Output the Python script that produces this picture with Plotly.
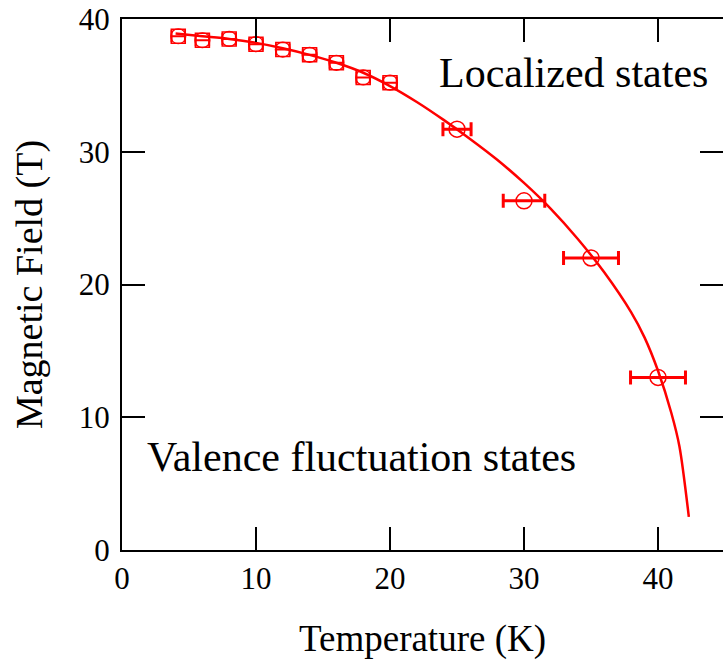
import plotly.graph_objects as go

# Square data (low temperature)
sq_T = [4.2, 6, 8, 10, 12, 14, 16, 18, 20]
sq_B = [38.7, 38.4, 38.5, 38.1, 37.7, 37.3, 36.7, 35.6, 35.2]
sq_err = [0.5, 0.5, 0.5, 0.5, 0.5, 0.5, 0.5, 0.5, 0.5]

# Circle data (high temperature)
ci_T = [25, 30, 35, 40]
ci_B = [31.7, 26.3, 22.0, 13.0]
ci_err = [1.05, 1.55, 2.05, 2.05]

# Fitted curve
fit_T = [4, 6, 8, 10, 12, 14, 16, 18, 20, 22, 24, 26, 28, 30, 32, 34, 36, 38, 39, 40, 41, 41.6, 42.3]
fit_B = [38.9, 38.7, 38.5, 38.2, 37.8, 37.3, 36.7, 35.95, 34.95, 33.75, 32.4, 30.95, 29.4, 27.65, 25.7, 23.45, 20.9, 17.9, 16.0, 13.5, 10.3, 7.8, 2.5]

xticks = [0, 10, 20, 30, 40]
yticks = [0, 10, 20, 30, 40]

RED = "#ff0000"
FONT = "Liberation Serif"

fig = go.Figure()
fig.add_trace(go.Scatter(x=fit_T, y=fit_B, mode="lines",
                         line=dict(color=RED, width=2.5, shape="spline", smoothing=0.8),
                         showlegend=False))
fig.add_trace(go.Scatter(x=sq_T, y=sq_B, mode="markers",
                         marker=dict(symbol="square-open", size=14, color=RED, line=dict(width=1.5, color=RED)),
                         error_x=dict(type="data", array=sq_err, color=RED, thickness=2, width=6),
                         showlegend=False))
fig.add_trace(go.Scatter(x=sq_T, y=sq_B, mode="markers",
                         marker=dict(symbol="circle-open", size=15, color=RED, line=dict(width=1.2, color=RED)),
                         showlegend=False))
fig.add_trace(go.Scatter(x=ci_T, y=ci_B, mode="markers",
                         marker=dict(symbol="circle-open", size=16, color=RED, line=dict(width=1.5, color=RED)),
                         error_x=dict(type="data", array=ci_err, color=RED, thickness=3, width=7),
                         showlegend=False))
# invisible trace for right y axis ticks
fig.add_trace(go.Scatter(x=[None], y=[None], yaxis="y2", showlegend=False))

W, H = 723, 666
l, t, b = 122, 19, 116
pw, ph = W - l, H - t - b

fig.update_layout(
    width=W, height=H,
    margin=dict(l=l, r=0, t=t, b=b),
    paper_bgcolor="white", plot_bgcolor="white",
    font=dict(family=FONT, color="black"),
    xaxis=dict(range=[0, 44.85], tickvals=xticks, ticktext=[str(v) for v in xticks],
               ticks="inside", ticklen=23, tickwidth=2, tickcolor="black",
               showline=True, linewidth=2, linecolor="black", mirror="ticks",
               showgrid=False, zeroline=False,
               tickfont=dict(size=31, family=FONT),
               title=dict(text="Temperature (K)", font=dict(size=37, family=FONT), standoff=30)),
    yaxis=dict(range=[0, 40], tickvals=yticks, ticktext=[str(v) for v in yticks],
               ticks="inside", ticklen=23, tickwidth=2, tickcolor="black",
               showline=True, linewidth=2, linecolor="black", mirror=False,
               showgrid=False, zeroline=False,
               tickfont=dict(size=31, family=FONT), ticklabelstandoff=4,
               title=dict(text="Magnetic Field (T)", font=dict(size=38, family=FONT), standoff=24)),
    yaxis2=dict(range=[0, 40], tickvals=yticks, overlaying="y", side="right",
                ticks="inside", ticklen=23, tickwidth=2, tickcolor="black",
                showticklabels=False, showline=False, showgrid=False, zeroline=False),
    annotations=[
        dict(text="Localized states", xref="paper", yref="paper",
             x=(437 - l) / pw, y=1 - (73 - t) / ph, xanchor="left", yanchor="middle",
             showarrow=False, font=dict(size=42, family=FONT)),
        dict(text="Valence fluctuation states", xref="paper", yref="paper",
             x=(145 - l) / pw, y=1 - (457 - t) / ph, xanchor="left", yanchor="middle",
             showarrow=False, font=dict(size=42, family=FONT)),
    ],
)

fig.write_html("out.html")
